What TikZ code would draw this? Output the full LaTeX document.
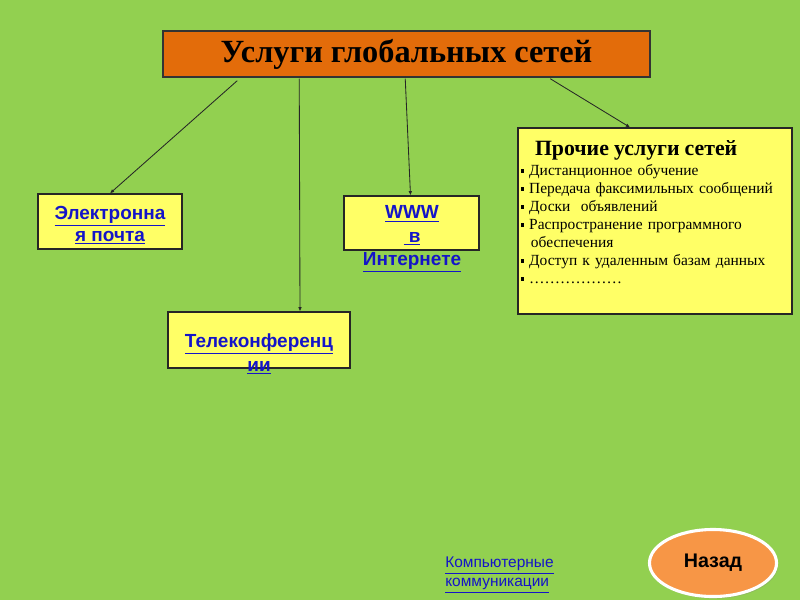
\documentclass[tikz,border=0pt]{standalone}
\usepackage{fontspec}
\setmainfont{Liberation Serif}
\setsansfont{Liberation Sans}
\usetikzlibrary{arrows.meta,calc,positioning,shapes.geometric,shadows}
\definecolor{field}{HTML}{92D050}
\definecolor{titlefill}{HTML}{E36C0A}
\definecolor{boxfill}{HTML}{FFFF66}
\definecolor{linkblue}{HTML}{1414C8}
\definecolor{backfill}{HTML}{F79646}
\tikzset{>=Latex,
  every node/.style={inner sep=0pt},
  link/.style={draw=black!85,line width=.6pt,
    -{Latex[length=3pt,width=2.6pt]}},
  servicebox/.style={draw=black!85,fill=boxfill,line width=.9pt},
  servicetext/.style={font=\sffamily\bfseries\fontsize{13.5}{15.5}\selectfont,
    text=linkblue,align=center}}
\newcommand{\sqbul}{\rule[0.15em]{0.22em}{0.22em}\ }
\newcommand{\lnk}[1]{\underline{#1}}
\begin{document}
\begin{tikzpicture}[x=0.025cm,y=-0.025cm]
\fill[field] (0,0) rectangle (800,600);
\useasboundingbox (0,0) rectangle (800,600);
% title
\node[draw=black!80,line width=1pt,fill=titlefill,minimum width=12.175cm,
  minimum height=1.15cm,font=\bfseries\fontsize{23}{26}\selectfont]
  (title) at (406.5,54) {Услуги глобальных сетей};
% services
\node[servicebox,minimum width=3.6cm,minimum height=1.375cm] (email) at (110,221.5) {};
\node[servicetext] (emailtxt) at (110,225) {\lnk{Электронна}\\\lnk{я почта}};
\node[servicebox,minimum width=3.375cm,minimum height=1.35cm] (www) at (411.5,223) {};
\node[servicetext,font=\sffamily\bfseries\fontsize{13.5}{16.5}\selectfont]
  (wwwtxt) at (412,239) {\lnk{WWW}\\\lnk{\ в}\\\lnk{Интернете}};
\node[servicebox,minimum width=4.55cm,minimum height=1.4cm] (telecon) at (259,340) {};
\node[servicetext,font=\sffamily\bfseries\fontsize{13.5}{17}\selectfont]
  (telecontxt) at (259,354) {\lnk{Телеконференц}\\\lnk{ии}};
\node[servicebox,minimum width=6.85cm,minimum height=4.65cm] (other) at (655,221) {};
\node[anchor=north west,text width=6.8cm,font=\fontsize{11}{12.8}\selectfont]
  (othertxt) at ($(other.north west)+(3,13)$)
  {\hspace*{0.36cm}{\bfseries\fontsize{15.5}{16}\selectfont Прочие услуги сетей}\par
   \vspace{1pt}\raggedright
   \sqbul Дистанционное обучение\\
   \sqbul Передача факсимильных сообщений\\
   \sqbul Доски\ \ объявлений\\
   \sqbul Распространение программного\\
   \ \ обеспечения\\
   \sqbul Доступ к удаленным базам данных\\
   \sqbul ………………\par};
% connectors
\draw[link] ($(title.south west)+(75,3)$) -- (email.north);
\draw[link] ($(title.south west)+(137,1)$) -- (telecon.north -| 300,0);
\draw[link] ($(title.south west)+(243,1)$) -- ($(www.north)+(-1,0)$);
\draw[link] ($(title.south west)+(388,1)$) -- ($(other.north)+(-25,0)$);
% bottom
\node[servicetext,font=\sffamily\fontsize{11}{13.5}\selectfont,align=left,
  anchor=west] (commlink) at (445,575) {\lnk{Компьютерные}\\\lnk{коммуникации}};
\node[ellipse,draw=white,line width=2.2pt,fill=backfill,minimum width=3.175cm,
  minimum height=1.675cm,drop shadow={opacity=.25,shadow xshift=1pt,shadow yshift=-1.5pt},
  font=\sffamily\bfseries\fontsize{14}{16}\selectfont] (back) at (713,563) {Назад};
\end{tikzpicture}
\end{document}
